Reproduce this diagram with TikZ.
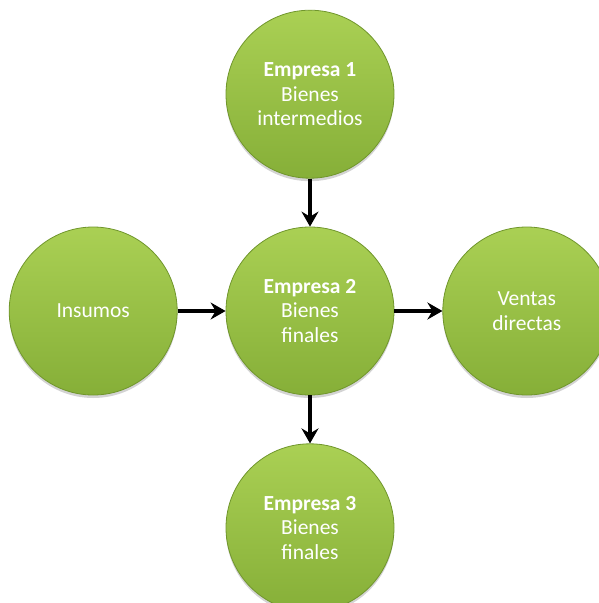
\documentclass[tikz,border=0pt]{standalone}
\usepackage{fontspec}
\setmainfont{Carlito}
\usetikzlibrary{positioning,shadows,arrows.meta}
\definecolor{gtop}{RGB}{170,208,84}
\definecolor{gbot}{RGB}{134,175,56}
\definecolor{gedge}{RGB}{112,150,44}

\begin{document}
\begin{tikzpicture}[x=1pt, y=-1pt, node distance=48pt,
    ->, >={Stealth[length=15pt,width=17pt,inset=5pt]}, line width=4pt,
    main/.style = {circle, draw=gedge, line width=0.8pt, top color=gtop, bottom color=gbot,
      minimum size=168pt, inner sep=0pt, align=center, text=white,
      font=\fontsize{21.5}{24.5}\selectfont,
      drop shadow={opacity=0.35, shadow xshift=0pt, shadow yshift=-3pt}}]
    \useasboundingbox (0,0) rectangle (598,603);
    \node[main] (e2) at (310,311) {\textbf{Empresa 2}\\Bienes\\finales};
    \node[main] (e1) [above=of e2] {\textbf{Empresa 1}\\Bienes\\intermedios};
    \node[main] (ins) [left=of e2] {Insumos};
    \node[main] (vd) [right=of e2] {Ventas\\directas};
    \node[main] (e3) [below=of e2] {\textbf{Empresa 3}\\Bienes\\finales};
    \path
        (e1) edge (e2)
        (ins) edge (e2)
        (e2) edge (vd)
        (e2) edge (e3);
\end{tikzpicture}
\end{document}
